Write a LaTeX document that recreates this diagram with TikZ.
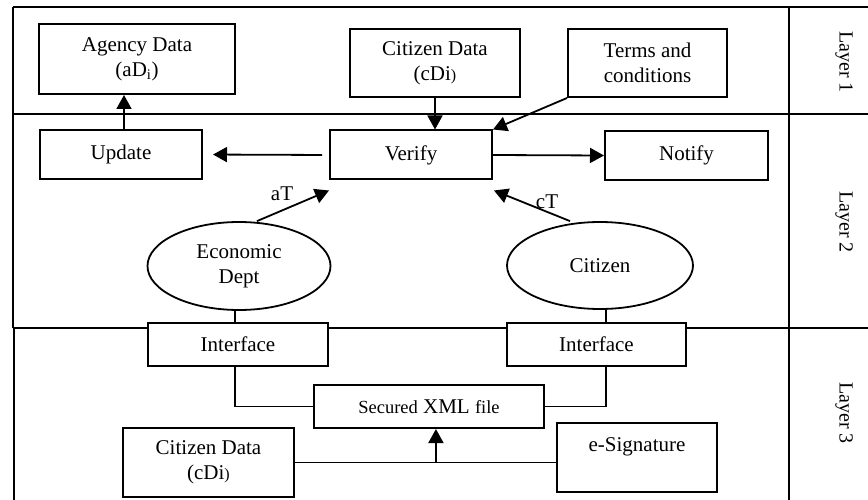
\documentclass[tikz,border=0pt]{standalone}
\usepackage{fontspec}
\setmainfont{Liberation Serif}
\usetikzlibrary{arrows.meta,shapes.geometric,calc}

\tikzset{
  txt/.style={font=\fontsize{21}{25}\selectfont},
  box/.style={txt, draw, line width=2pt, rectangle, align=center, inner sep=0pt},
  oval/.style={txt, draw, line width=1.8pt, ellipse, align=center, inner sep=0pt},
  frame/.style={line width=2pt},
  link/.style={line width=1.8pt},
  arr/.style={link, -{Triangle[length=14pt,width=15pt]}},
  layerlbl/.style={font=\fontsize{20}{24}\selectfont, rotate=-90}
}

\begin{document}
\begin{tikzpicture}[x=1pt,y=-1pt]
\useasboundingbox (0,0) rectangle (868,500);

% layer frame
\draw[frame] (13,7) -- (868,7);
\draw[frame] (13,7) -- (13,328);
\draw[frame] (14,328) -- (14,500);
\draw[frame] (13,114) -- (868,114);
\draw[frame] (13,328) -- (868,328);
\draw[frame] (789,7) -- (789,500);

\node[layerlbl] (l1) at (844,62) {Layer 1};
\node[layerlbl] (l2) at (844,222) {Layer 2};
\node[layerlbl] (l3) at (844,413) {Layer 3};

% layer 1
\node[box, minimum width=196pt, minimum height=70pt] (agency) at (137,59) {Agency Data\\(aD\textsubscript{i})};
\node[box, minimum width=170pt, minimum height=68pt] (cdata) at (435,63) {Citizen Data\\(cDi{\fontsize{16}{16}\selectfont)}};
\node[box, minimum width=159pt, minimum height=68pt] (terms) at (647.5,63) {Terms and\\conditions};

% layer 2
\node[box, minimum width=162pt, minimum height=49pt] (update) at (121,154.5) {Update};
\node[box, minimum width=162pt, minimum height=49pt] (verify) at (411,155) {Verify};
\node[box, minimum width=163pt, minimum height=49pt] (notify) at (686.5,155.5) {Notify};
\node[oval, minimum width=183pt, minimum height=88pt] (econ) at (239,266) {Economic\\Dept};
\node[oval, minimum width=186pt, minimum height=87pt] (citizen) at (600,265.5) {Citizen};

% layer 3
\node[box, fill=white, minimum width=180pt, minimum height=43pt] (iface1) at (238,344.5) {Interface};
\node[box, fill=white, minimum width=179pt, minimum height=43pt] (iface2) at (596.5,344.5) {Interface};
\node[box, minimum width=230pt, minimum height=43pt] (xml) at (429,406.5)
  {{\fontsize{18.5}{22}\selectfont Secured} XML {\fontsize{18.5}{22}\selectfont file}};
\node[box, minimum width=171pt, minimum height=69pt] (cdata2) at (208.5,462.5) {Citizen Data\\(cDi{\fontsize{16}{16}\selectfont)}};
\node[box, minimum width=160pt, minimum height=69pt] (esig) at (637,457.5) {e-Signature\\\mbox{}};

% connectors, layers 1 and 2
\draw[arr] ($(update.north)+(3,0)$) -- ($(update.north |- agency.south)+(3,0)$);
\draw[arr] (cdata.south) -- (cdata.south |- verify.north);
\draw[arr] (terms.south west) -- (verify.north east);
\draw[arr, shorten <=7pt, shorten >=10pt] (verify.west) -- (update.east);
\draw[arr] (verify.east) -- (notify.west);
\draw[arr] ($(econ.north)+(18,0)$) -- ($(verify.south west)+(0,10)$);
\node[txt] (at) at (282,194) {aT};
\draw[arr] ($(citizen.north)+(-30,0)$) -- ($(verify.south east)+(1,10)$);
\node[txt] (ct) at (547,202) {cT};

% connectors, layer 3
\coordinate (rdrop) at (606,0);
\draw[link] ($(econ.south)+(-4,0)$) -- ($(iface1.north)+(-3,0)$);
\draw[link] (citizen.south -| rdrop) -- (iface2.north -| rdrop);
\draw[link] ($(iface1.south)+(-3,0)$) |- (xml.west);
\draw[link] (iface2.south -| rdrop) |- (xml.east);
\coordinate (join) at ($(cdata2.east)!0.54!(esig.west |- cdata2.east)$);
\draw[link] (cdata2.east) -- (esig.west |- cdata2.east);
\draw[arr] (join) -- (join |- xml.south);
\end{tikzpicture}
\end{document}
